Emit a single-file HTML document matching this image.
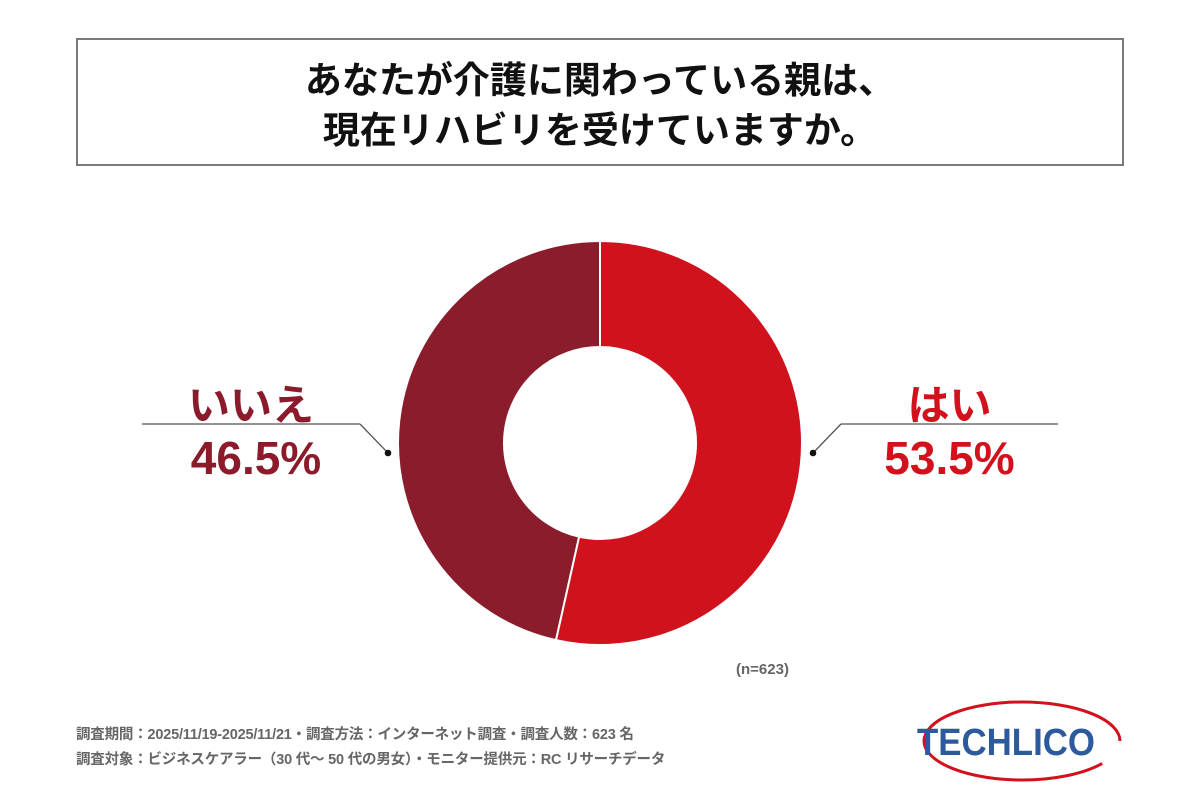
<!DOCTYPE html>
<html><head><meta charset="utf-8">
<style>
body{margin:0;background:#fff;width:1200px;height:800px;overflow:hidden;font-family:"Liberation Sans","Noto Sans CJK JP",sans-serif;}
.t{position:absolute;left:76px;top:38px;width:1048px;height:128px;border:2px solid #7a7a7a;box-sizing:border-box;text-align:center;font-weight:bold;font-size:37px;line-height:50px;color:#111;padding-top:16px;}
.lab{position:absolute;font-weight:bold;text-align:center;}
.foot{position:absolute;left:76px;font-size:14.5px;color:#666;font-weight:bold;letter-spacing:-0.2px;}
</style></head><body>
<div class="t">あなたが介護に関わっている親は、<br>現在リハビリを受けていますか。</div>
<svg id="c" width="1200" height="800" style="position:absolute;left:0;top:0">
<line x1="142" y1="424" x2="360" y2="424" stroke="#555" stroke-width="1.3"/>
<polyline points="360,424 388,453" fill="none" stroke="#555" stroke-width="1.3"/>
<circle cx="388" cy="453" r="3.3" fill="#111"/>
<line x1="841" y1="424" x2="1058" y2="424" stroke="#555" stroke-width="1.3"/>
<polyline points="841,424 813,453" fill="none" stroke="#555" stroke-width="1.3"/>
<circle cx="813" cy="453" r="3.3" fill="#111"/>
<g id="slices"></g>
<ellipse cx="1022" cy="741" rx="98" ry="39" fill="none" stroke="#d3111c" stroke-width="3" stroke-dasharray="440 60" stroke-dashoffset="-30"/>
<text x="1006" y="755" text-anchor="middle" textLength="178" lengthAdjust="spacingAndGlyphs" font-family="Liberation Sans, sans-serif" font-weight="bold" font-size="38" fill="#2d5a9c">TECHLICO</text>
</svg>
<div class="lab" style="left:142px;width:218px;top:372px;font-size:42px;color:#8b1a2b">いいえ</div>
<div class="lab" style="left:142px;width:228px;top:431px;font-size:46px;color:#8b1a2b">46.5%</div>
<div class="lab" style="left:841px;width:217px;top:372px;font-size:42px;color:#d3111c">はい</div>
<div class="lab" style="left:841px;width:217px;top:431px;font-size:46px;color:#d3111c">53.5%</div>
<div style="position:absolute;left:736px;top:661px;font-size:15px;font-weight:bold;color:#666">(n=623)</div>
<div class="foot" style="top:723px">調査期間：2025/11/19-2025/11/21・調査方法：インターネット調査・調査人数：623 名</div>
<div class="foot" style="top:748px">調査対象：ビジネスケアラー（30 代～ 50 代の男女）・モニター提供元：RC リサーチデータ</div>
<script>
const categories=["はい","いいえ"];
const values=[53.5,46.5];
const colors=["#d0121d","#8b1c2c"];
const cx=600,cy=443,R=202,r=96;
const g=document.getElementById('slices');
const total=values.reduce((a,b)=>a+b,0);
let a0=0;
function pt(a,rad){return [cx+rad*Math.sin(a),cy-rad*Math.cos(a)];}
values.forEach((v,i)=>{
  const a1=a0+v/total*2*Math.PI;
  const large=(a1-a0)>Math.PI?1:0;
  const p1=pt(a0,R),p2=pt(a1,R),p3=pt(a1,r),p4=pt(a0,r);
  const p=document.createElementNS('http://www.w3.org/2000/svg','path');
  p.setAttribute('d',`M${p1}A${R},${R} 0 ${large} 1 ${p2}L${p3}A${r},${r} 0 ${large} 0 ${p4}Z`);
  p.setAttribute('fill',colors[i]);
  p.setAttribute('stroke','#fff');
  p.setAttribute('stroke-width','2');
  
  
  g.appendChild(p);
  a0=a1;
});
</script>
</body></html>
